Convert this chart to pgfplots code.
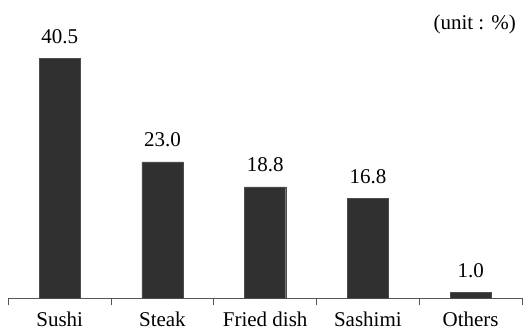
\documentclass[border=0pt]{standalone}
\usepackage{fontspec}
\setmainfont{Liberation Serif}
\usepackage{pgfplots}
\pgfplotsset{compat=1.18}
\definecolor{barfill}{HTML}{303030}
\definecolor{axisgray}{HTML}{555555}
\begin{document}
\fontsize{21bp}{25bp}\selectfont
\begin{tikzpicture}
\begin{axis}[
  scale only axis,
  width=513.7bp, height=298.3bp,
  xmin=-0.5, xmax=4.5,
  ymin=0, ymax=50.3,
  axis x line=bottom,
  axis y line=none,
  axis line style={draw=axisgray, line width=0.7bp, -},
  xtick={0,1,2,3,4},
  xticklabels={Sushi, Steak, Fried dish, Sashimi, Others},
  major tick length=0pt,
  minor xtick={-0.5,0.5,1.5,2.5,3.5,4.5},
  minor tick length=7bp,
  tick align=outside,
  minor tick style={draw=axisgray, line width=0.7bp},
  xticklabel style={anchor=base, yshift=-28.4bp, font=\fontsize{21bp}{25bp}\selectfont},
  ybar,
  bar width=0.4,
  nodes near coords,
  every node near coord/.append style={anchor=base, yshift=15bp,
    font=\fontsize{21bp}{25bp}\selectfont},
  /pgf/number format/.cd, fixed, fixed zerofill, precision=1, assume math mode=true,
]
% share of each dish, in percent
\addplot[fill=barfill, draw=black!70, line width=0.4bp]
  coordinates {(0,40.5) (1,23.0) (2,18.8) (3,16.8) (4,1.0)};
\node[anchor=base east, xshift=1bp, yshift=-29bp,
      font=\fontsize{21bp}{25bp}\selectfont] at (rel axis cs:1,1) {(unit : \%)};
\end{axis}
\pgfresetboundingbox
\path (-8.3bp,-34.7bp) rectangle ++(527bp,333bp);
\end{tikzpicture}
\end{document}
